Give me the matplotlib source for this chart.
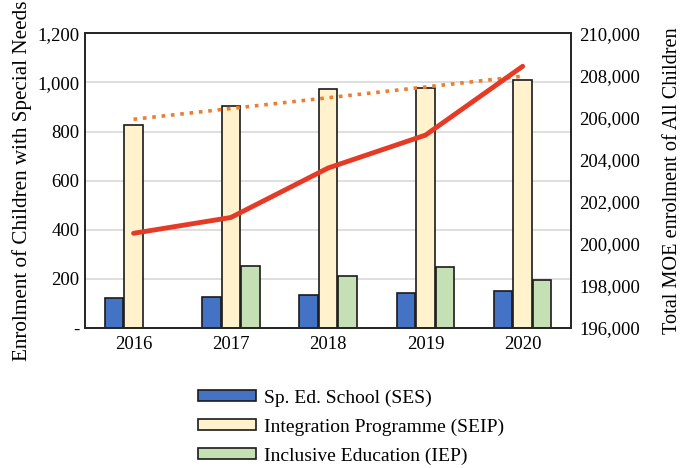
import numpy as np
import matplotlib
matplotlib.use("Agg")
import matplotlib.pyplot as plt
from matplotlib.ticker import FuncFormatter

plt.rcParams['font.family'] = ['Liberation Serif', 'DejaVu Serif']

# data
years = ["2016", "2017", "2018", "2019", "2020"]
ses = [123, 126, 133, 144, 152]
seip = [827, 903, 971, 977, 1009]
iep = [0, 251, 212, 248, 195]
total_moe = [200500, 201250, 203600, 205160, 208430]

x = np.arange(len(years))
w = 0.19

fig = plt.figure(figsize=(6.85, 4.68), dpi=100)
ax = fig.add_axes([0.124, 0.299, 0.710, 0.630])

ax.bar(x - 0.2, ses, w, color='#4472C4', edgecolor='#1a1a1a', lw=1.2, label='Sp. Ed. School (SES)', zorder=2)
ax.bar(x, seip, w, color='#FFF2CC', edgecolor='#1a1a1a', lw=1.2, label='Integration Programme (SEIP)', zorder=2)
ax.bar(x + 0.2, iep, w, color='#C5E0B4', edgecolor='#1a1a1a', lw=1.2, label='Inclusive Education (IEP)', zorder=2)

# linear trend of SEIP
k, b = np.polyfit(x, seip, 1)
ax.plot(x, k * x + b, ls=(0, (1, 1.6)), color='#ED7D31', lw=2.6, zorder=3)

ax.set_xlim(-0.5, 4.5)
ax.set_ylim(0, 1200)
ax.set_yticks(range(0, 1201, 200))
ax.yaxis.set_major_formatter(FuncFormatter(lambda v, p: '-' if v == 0 else f'{int(v):,}'))
ax.set_xticks(x)
ax.set_xticklabels(years)
ax.grid(axis='y', color='#D9D9D9', lw=1.2, zorder=0)
ax.set_axisbelow(True)
ax.tick_params(axis='x', length=0, labelsize=13.5, pad=6)
ax.tick_params(axis='y', length=0, labelsize=13.5, pad=4)
ax.set_ylabel('Enrolment of Children with Special Needs', fontsize=15.2, labelpad=4)
for s in ax.spines.values():
    s.set_color('#262626')
    s.set_linewidth(1.3)

ax2 = ax.twinx()
ax2.plot(x, total_moe, color='#E53A26', lw=3.5, solid_capstyle='round', zorder=4)
ax2.set_ylim(196000, 210000)
ax2.set_yticks(range(196000, 210001, 2000))
ax2.yaxis.set_major_formatter(FuncFormatter(lambda v, p: f'{int(v):,}'))
ax2.tick_params(length=0, labelsize=13.5, pad=6)
ax2.set_ylabel('Total MOE enrolment of All Children', fontsize=14.6, labelpad=16)
for s in ax2.spines.values():
    s.set_color('#262626')
    s.set_linewidth(1.3)

h, l = ax.get_legend_handles_labels()
fig.legend(h, l, loc='upper center', bbox_to_anchor=(0.512, 0.205), frameon=False,
           fontsize=14, handlelength=3.0, handleheight=0.5, labelspacing=0.6,
           handletextpad=0.4)

fig.savefig('out.png', dpi=100)
